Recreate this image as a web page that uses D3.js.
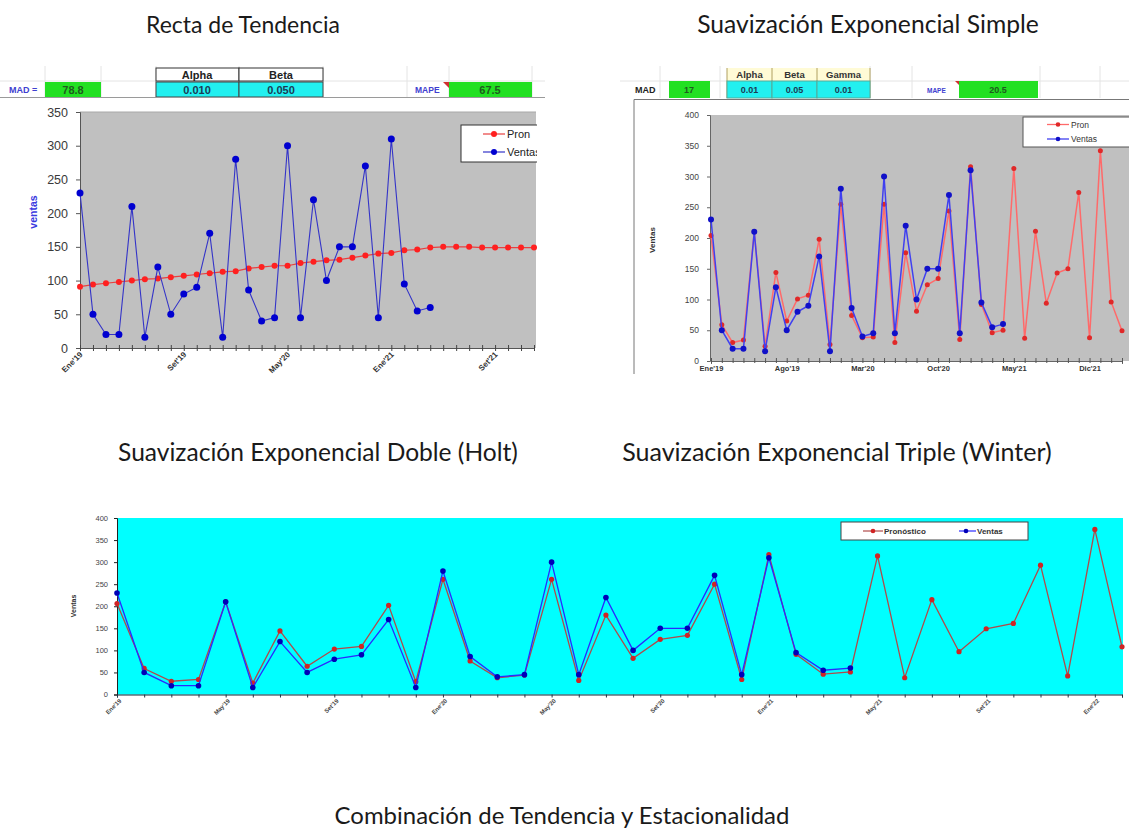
<!DOCTYPE html>
<html>
<head>
<meta charset="utf-8">
<script src="https://cdn.jsdelivr.net/npm/d3@7"></script>
<style>
  body { margin: 0; background: #fff; }
  svg { display: block; }
</style>
</head>
<body>
<svg id="lienzo" width="1129" height="832"></svg>
<script>
// Periodos mensuales (Ene'19 .. Mar'22)
const periodos = ["Ene'19","Feb'19","Mar'19","Abr'19","May'19","Jun'19","Jul'19","Ago'19","Set'19","Oct'19","Nov'19","Dic'19",
  "Ene'20","Feb'20","Mar'20","Abr'20","May'20","Jun'20","Jul'20","Ago'20","Set'20","Oct'20","Nov'20","Dic'20",
  "Ene'21","Feb'21","Mar'21","Abr'21","May'21","Jun'21","Jul'21","Ago'21","Set'21","Oct'21","Nov'21","Dic'21",
  "Ene'22","Feb'22","Mar'22"];

// Ventas reales (Ene'19 .. Abr'21)
const ventas = [230, 50, 20, 20, 210, 16, 120, 50, 80, 90, 170, 16,
  280, 86, 40, 45, 300, 45, 220, 100, 150, 150, 270, 45,
  310, 95, 55, 60];

// Pronóstico por recta de tendencia (36 meses)
const pronTendencia = [91, 94, 96, 98, 100, 102, 103, 105, 107, 109, 111, 113,
  114, 118, 120, 122, 122, 126, 128, 130, 131, 134, 137, 140,
  141, 145, 146, 149, 150, 150, 150, 149, 149, 149, 149, 149];

// Pronóstico del segundo modelo (39 meses)
const pronSuavizado = [204, 59, 30, 34, 210, 24, 144, 65, 101, 107, 198, 27,
  255, 74, 38, 39, 255, 30, 176, 81, 124, 134, 244, 35,
  316, 92, 46, 50, 313, 37, 211, 94, 143, 150, 274, 38,
  342, 96, 49];

// Pronóstico combinado tendencia + estacionalidad (38 meses)
const pronCombinado = [206, 59, 30, 34, 210, 26, 144, 64, 103, 109, 202, 29,
  261, 76, 38, 44, 261, 32, 180, 82, 125, 134, 250, 34,
  317, 91, 46, 51, 314, 38, 215, 97, 149, 161, 293, 42,
  374, 108];

// Parámetros e indicadores de error
const paramTendencia = { alpha: "0.010", beta: "0.050", mad: "78.8", mape: "67.5" };
const paramSuavizado = { alpha: "0.01", beta: "0.05", gamma: "0.01", mad: "17", mape: "20.5" };

const ticksY350 = [0, 50, 100, 150, 200, 250, 300, 350];
const ticksY400 = [0, 50, 100, 150, 200, 250, 300, 350, 400];

const svg = d3.select("#lienzo");
svg.append("rect").attr("width", 1129).attr("height", 832).attr("fill", "#fff");

const fuenteTitulo = "Lato, 'Open Sans', sans-serif";
const fuenteHoja = "'Liberation Sans', Arial, sans-serif";

// Títulos ajustados a su ancho
function titulo(texto, cx, base, ancho) {
  const t = svg.append("text")
    .attr("x", cx).attr("y", base)
    .attr("text-anchor", "middle")
    .attr("font-family", fuenteTitulo)
    .attr("font-size", 22)
    .attr("fill", "#1a1a1a")
    .text(texto);
  const w = t.node().getComputedTextLength();
  t.attr("font-size", 22 * ancho / w);
}
titulo("Recta de Tendencia", 243, 33, 194);
titulo("Suavización Exponencial Simple", 868, 33, 342);
titulo("Suavización Exponencial Doble (Holt)", 318, 461, 400);
titulo("Suavización Exponencial Triple (Winter)", 837, 461, 430);
titulo("Combinación de Tendencia y Estacionalidad", 562, 824, 455);

// Utilidades de celdas
function celda(g, x0, x1, y0, y1, fill, stroke) {
  g.append("rect").attr("x", x0).attr("y", y0).attr("width", x1 - x0).attr("height", y1 - y0)
    .attr("fill", fill).attr("stroke", stroke || "none").attr("stroke-width", 1);
}
function texto(g, x, y, t, opts) {
  opts = opts || {};
  return g.append("text").attr("x", x).attr("y", y)
    .attr("text-anchor", opts.anchor || "middle")
    .attr("font-family", fuenteHoja)
    .attr("font-size", opts.size || 10)
    .attr("font-weight", opts.weight || "bold")
    .attr("fill", opts.fill || "#222")
    .text(t);
}
function lineaGuia(g, x1, y1, x2, y2, color) {
  g.append("line").attr("x1", x1).attr("y1", y1).attr("x2", x2).attr("y2", y2)
    .attr("stroke", color || "#e4e4e4").attr("stroke-width", 1);
}

// Serie con línea y marcadores
function serie(g, x, y, datos, estilo) {
  g.append("path").datum(datos)
    .attr("d", d3.line().x((d, i) => x(i)).y(d => y(d)))
    .attr("fill", "none")
    .attr("stroke", estilo.linea)
    .attr("stroke-width", estilo.ancho);
  g.selectAll(null).data(datos).join("circle")
    .attr("cx", (d, i) => x(i)).attr("cy", d => y(d))
    .attr("r", estilo.radio).attr("fill", estilo.marcador);
}

/* ---------------- Recta de Tendencia ---------------- */
{
  const g = svg.append("g");
  // hoja de cálculo: cabecera de parámetros
  [45, 101, 156, 239, 323, 407, 449, 532].forEach(xv => lineaGuia(g, xv, 66, xv, 97));
  lineaGuia(g, 0, 81, 545, 81);
  celda(g, 156, 239, 68, 81, "#fff", "#333");
  celda(g, 239, 323, 68, 81, "#fff", "#333");
  texto(g, 197, 78.5, "Alpha", { size: 11 });
  texto(g, 281, 78.5, "Beta", { size: 11 });
  celda(g, 156, 239, 82, 97, "#22f0f0", "#444");
  celda(g, 239, 323, 82, 97, "#22f0f0", "#444");
  texto(g, 197, 93.5, paramTendencia.alpha, { size: 11, fill: "#1c3c55" });
  texto(g, 281, 93.5, paramTendencia.beta, { size: 11, fill: "#1c3c55" });
  texto(g, 9, 93, "MAD =", { anchor: "start", size: 9, fill: "#4040d0" });
  celda(g, 45, 101, 82, 97, "#22e022");
  texto(g, 73, 93.5, paramTendencia.mad, { size: 11, fill: "#1f5a1f" });
  texto(g, 415, 93, "MAPE", { anchor: "start", size: 8.5, fill: "#4040d0" });
  g.append("path").attr("d", "M443,82 L449,82 L449,88 Z").attr("fill", "#d03030");
  celda(g, 449, 532, 82, 97, "#22e022");
  texto(g, 490, 93.5, paramTendencia.mape, { size: 11, fill: "#1f5a1f" });
  lineaGuia(g, 0, 97.5, 545, 97.5, "#9a9a9a");

  const x = d3.scaleLinear().domain([0, 35]).range([80, 534]);
  const y = d3.scaleLinear().domain([0, 350]).range([348, 112]);

  g.append("rect").attr("x", 80).attr("y", 112).attr("width", 456).attr("height", 236).attr("fill", "#c0c0c0");
  g.append("line").attr("x1", 80).attr("x2", 536).attr("y1", 112).attr("y2", 112).attr("stroke", "#a8a8a8");

  const ay = g.append("g").attr("transform", "translate(80,0)")
    .call(d3.axisLeft(y).tickValues(ticksY350).tickSize(4).tickPadding(8));
  ay.select(".domain").attr("stroke", "#555");
  ay.selectAll(".tick line").attr("stroke", "#555");
  ay.selectAll("text").attr("font-family", fuenteHoja).attr("font-size", 12.5).attr("fill", "#3a3a3a");

  const ax = g.append("g").attr("transform", "translate(0,348)")
    .call(d3.axisBottom(x).tickValues(d3.range(36)).tickSize(3)
      .tickFormat(i => i % 8 === 0 ? periodos[i] : ""));
  ax.select(".domain").attr("stroke", "#555");
  ax.selectAll(".tick line").attr("y1", -3).attr("y2", 3).attr("stroke", "#444");
  ax.selectAll("text").attr("font-family", fuenteHoja).attr("font-size", 8).attr("font-weight", "bold")
    .attr("fill", "#333").attr("text-anchor", "end")
    .attr("transform", "rotate(-45)").attr("dx", "-0.4em").attr("dy", "0.1em");

  g.append("text").attr("transform", "translate(37,212) rotate(-90)")
    .attr("text-anchor", "middle").attr("font-family", fuenteHoja).attr("font-size", 10.5)
    .attr("font-weight", "bold").attr("fill", "#3a3ae0").text("ventas");

  serie(g, x, y, pronTendencia, { linea: "#e84040", ancho: 1.2, marcador: "#ff2020", radio: 3 });
  serie(g, x, y, ventas, { linea: "#3434c8", ancho: 1.1, marcador: "#0000d0", radio: 3.5 });

  // leyenda recortada por el borde del gráfico
  svg.append("clipPath").attr("id", "corteTL")
    .append("rect").attr("x", 0).attr("y", 100).attr("width", 537).attr("height", 260);
  const ley = g.append("g").attr("clip-path", "url(#corteTL)");
  ley.append("rect").attr("x", 461).attr("y", 125).attr("width", 90).attr("height", 37)
    .attr("fill", "#fff").attr("stroke", "#333");
  [["Pron", "#e84040", "#ff2020", 134], ["Ventas", "#3434c8", "#0000d0", 152]].forEach(([t, c, m, yy]) => {
    ley.append("line").attr("x1", 483).attr("x2", 505).attr("y1", yy).attr("y2", yy).attr("stroke", c).attr("stroke-width", 1.2);
    ley.append("circle").attr("cx", 494).attr("cy", yy).attr("r", 3).attr("fill", m);
    ley.append("text").attr("x", 507).attr("y", yy + 4).attr("font-family", fuenteHoja)
      .attr("font-size", 11).attr("fill", "#222").text(t);
  });
}

/* ---------------- Suavización Exponencial Simple ---------------- */
{
  const g = svg.append("g");
  [660, 720, 870, 912, 1040, 1100].forEach(xv => lineaGuia(g, xv, 66, xv, 98));
  lineaGuia(g, 620, 81, 1129, 81);
  [["Alpha", 727, 772], ["Beta", 772, 817], ["Gamma", 817, 870]].forEach(([t, a, b]) => {
    celda(g, a, b, 68, 81, "#fffbd6");
    g.append("line").attr("x1", a).attr("x2", a).attr("y1", 68).attr("y2", 98).attr("stroke", "#b0a060");
    texto(g, (a + b) / 2, 78, t, { size: 9.5, fill: "#333" });
  });
  g.append("line").attr("x1", 870).attr("x2", 870).attr("y1", 68).attr("y2", 98).attr("stroke", "#b0a060");
  [[paramSuavizado.alpha, 727, 772], [paramSuavizado.beta, 772, 817], [paramSuavizado.gamma, 817, 870]].forEach(([t, a, b]) => {
    celda(g, a, b, 81, 98, "#22f0f0", "#5a9");
    texto(g, (a + b) / 2, 93, t, { size: 9, fill: "#1c3c55" });
  });
  texto(g, 635, 93, "MAD", { anchor: "start", size: 9, fill: "#222" });
  celda(g, 669, 710, 81, 98, "#22e022");
  texto(g, 689, 93, paramSuavizado.mad, { size: 9, fill: "#1f5a1f" });
  texto(g, 927, 92.5, "MAPE", { anchor: "start", size: 6.5, fill: "#4040d0" });
  g.append("path").attr("d", "M955,81 L960,81 L960,86 Z").attr("fill", "#d03030");
  celda(g, 959, 1038, 81, 98, "#22e022");
  texto(g, 998, 93, paramSuavizado.mape, { size: 9, fill: "#1f5a1f" });
  // marco del gráfico
  g.append("line").attr("x1", 634).attr("x2", 1129).attr("y1", 99.5).attr("y2", 99.5).attr("stroke", "#777");
  g.append("line").attr("x1", 634).attr("x2", 634).attr("y1", 99.5).attr("y2", 374).attr("stroke", "#777");

  const x = d3.scaleLinear().domain([0, 38]).range([711, 1122]);
  const y = d3.scaleLinear().domain([0, 400]).range([361, 115]);

  g.append("rect").attr("x", 710).attr("y", 115).attr("width", 419).attr("height", 246).attr("fill", "#c0c0c0");

  const ay = g.append("g").attr("transform", "translate(710,0)")
    .call(d3.axisLeft(y).tickValues(ticksY400).tickSize(3).tickPadding(8));
  ay.select(".domain").attr("stroke", "#666");
  ay.selectAll(".tick line").attr("stroke", "#666");
  ay.selectAll("text").attr("font-family", fuenteHoja).attr("font-size", 8.5).attr("fill", "#444");

  const ax = g.append("g").attr("transform", "translate(0,361)")
    .call(d3.axisBottom(x).tickValues(d3.range(39)).tickSize(3).tickPadding(2)
      .tickFormat(i => i % 7 === 0 ? periodos[i] : ""));
  ax.select(".domain").attr("stroke", "#666");
  ax.selectAll(".tick line").attr("y1", -3).attr("y2", 2).attr("stroke", "#555");
  ax.selectAll("text").attr("font-family", fuenteHoja).attr("font-size", 7.5).attr("font-weight", "bold").attr("fill", "#333");

  g.append("text").attr("transform", "translate(655,240) rotate(-90)")
    .attr("text-anchor", "middle").attr("font-family", fuenteHoja).attr("font-size", 8)
    .attr("font-weight", "bold").attr("fill", "#333").text("Ventas");

  serie(g, x, y, pronSuavizado, { linea: "#ff6a6a", ancho: 1.5, marcador: "#e02828", radio: 2.5 });
  serie(g, x, y, ventas, { linea: "#4040f0", ancho: 1.5, marcador: "#1010c8", radio: 3 });

  g.append("rect").attr("x", 1023).attr("y", 117).attr("width", 110).attr("height", 30)
    .attr("fill", "#fff").attr("stroke", "#555");
  [["Pron", "#ff6a6a", "#e02828", 124.5], ["Ventas", "#4040f0", "#1010c8", 139]].forEach(([t, c, m, yy]) => {
    g.append("line").attr("x1", 1047).attr("x2", 1069).attr("y1", yy).attr("y2", yy).attr("stroke", c).attr("stroke-width", 1.3);
    g.append("circle").attr("cx", 1058).attr("cy", yy).attr("r", 2.3).attr("fill", m);
    g.append("text").attr("x", 1071).attr("y", yy + 3).attr("font-family", fuenteHoja)
      .attr("font-size", 8.5).attr("fill", "#333").text(t);
  });
}

/* ---------------- Combinación de Tendencia y Estacionalidad ---------------- */
{
  const g = svg.append("g");
  const x = d3.scaleLinear().domain([0, 37]).range([117, 1122]);
  const y = d3.scaleLinear().domain([0, 400]).range([694.5, 518]);

  g.append("rect").attr("x", 117).attr("y", 518).attr("width", 1006).attr("height", 176.5).attr("fill", "#00ffff");

  const ay = g.append("g").attr("transform", "translate(117,0)")
    .call(d3.axisLeft(y).tickValues(ticksY400).tickSize(3).tickPadding(6));
  ay.select(".domain").attr("stroke", "#222");
  ay.selectAll(".tick line").attr("stroke", "#222");
  ay.selectAll("text").attr("font-family", fuenteHoja).attr("font-size", 7.5).attr("fill", "#444");

  const ax = g.append("g").attr("transform", "translate(0,694.5)")
    .call(d3.axisBottom(x).tickValues(d3.range(38)).tickSize(3).tickPadding(3)
      .tickFormat(i => i % 4 === 0 ? periodos[i] : ""));
  ax.select(".domain").attr("stroke", "#123");
  ax.selectAll(".tick line").attr("stroke", "#234");
  ax.selectAll("text").attr("font-family", fuenteHoja).attr("font-size", 6).attr("font-weight", "bold")
    .attr("fill", "#444").attr("text-anchor", "end")
    .attr("transform", "rotate(-45)").attr("dx", "-0.3em").attr("dy", "0.3em");

  g.append("text").attr("transform", "translate(76,606) rotate(-90)")
    .attr("text-anchor", "middle").attr("font-family", fuenteHoja).attr("font-size", 7)
    .attr("font-weight", "bold").attr("fill", "#333").text("Ventas");

  serie(g, x, y, pronCombinado, { linea: "#b04a4a", ancho: 1.3, marcador: "#d02424", radio: 2.6 });
  serie(g, x, y, ventas, { linea: "#2a2aff", ancho: 1.3, marcador: "#0000b8", radio: 2.8 });

  g.append("rect").attr("x", 841).attr("y", 522).attr("width", 187).attr("height", 18)
    .attr("fill", "#fff").attr("stroke", "#444");
  [["Pronóstico", "#b04a4a", "#d02424", 863, 883, 873], ["Ventas", "#2a2aff", "#0000b8", 959, 976, 966]].forEach(([t, c, m, a, b, cx]) => {
    g.append("line").attr("x1", a).attr("x2", b).attr("y1", 531).attr("y2", 531).attr("stroke", c).attr("stroke-width", 1.2);
    g.append("circle").attr("cx", cx).attr("cy", 531).attr("r", 2.3).attr("fill", m);
    g.append("text").attr("x", b + 1).attr("y", 534).attr("font-family", fuenteHoja)
      .attr("font-size", 8).attr("font-weight", "bold").attr("fill", "#333").text(t);
  });
}
</script>
</body>
</html>
